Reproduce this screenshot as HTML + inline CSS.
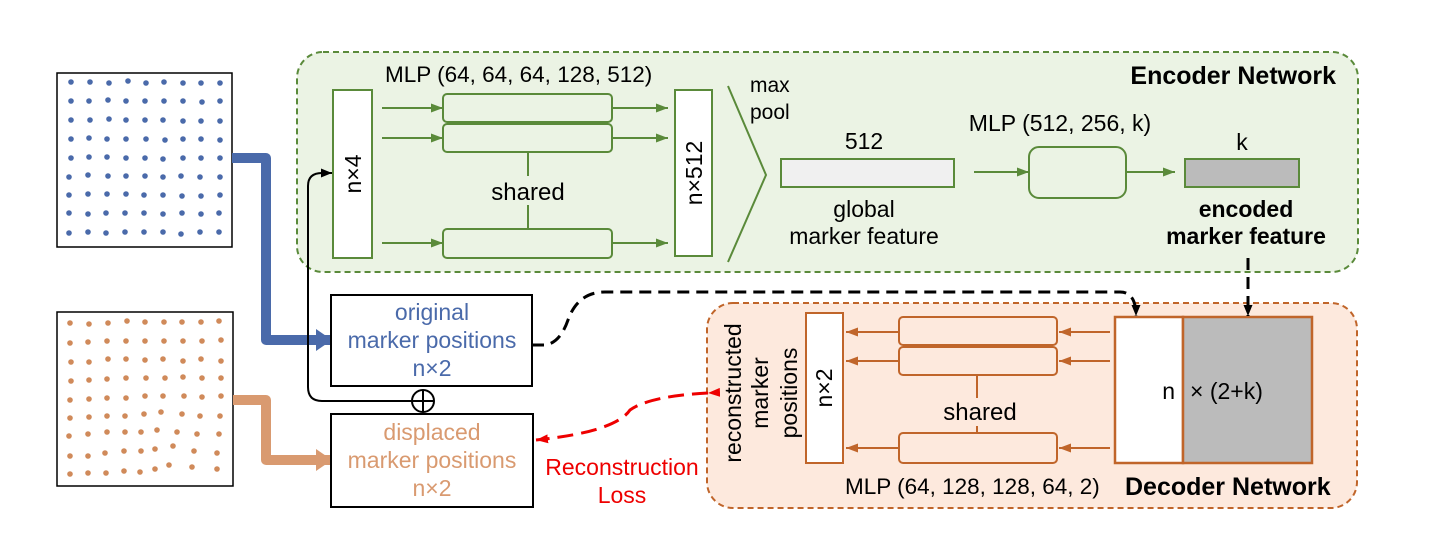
<!DOCTYPE html>
<html><head><meta charset="utf-8"><style>
html,body{margin:0;padding:0;background:#fff;}
svg{display:block;font-family:"Liberation Sans",sans-serif;}
</style></head><body>
<svg width="1436" height="535" viewBox="0 0 1436 535" xmlns="http://www.w3.org/2000/svg">
<defs>
<marker id="ag" markerWidth="12" markerHeight="9" refX="12" refY="4.5" orient="auto" markerUnits="userSpaceOnUse"><path d="M0,0 L12,4.5 L0,9z" fill="#5a8a3a"/></marker>
<marker id="ao" markerWidth="12" markerHeight="9" refX="12" refY="4.5" orient="auto" markerUnits="userSpaceOnUse"><path d="M0,0 L12,4.5 L0,9z" fill="#c0652a"/></marker>
<marker id="ak" markerWidth="11" markerHeight="9" refX="11" refY="4.5" orient="auto" markerUnits="userSpaceOnUse"><path d="M0,0 L11,4.5 L0,9z" fill="#000"/></marker>
<marker id="ar" markerWidth="12" markerHeight="9" refX="12" refY="4.5" orient="auto" markerUnits="userSpaceOnUse"><path d="M0,0 L12,4.5 L0,9z" fill="#e00"/></marker>
<marker id="ab" markerWidth="16" markerHeight="22" refX="14" refY="11" orient="auto" markerUnits="userSpaceOnUse"><path d="M0,0 L16,11 L0,22z" fill="#4a6aaa"/></marker>
<marker id="aor" markerWidth="16" markerHeight="22" refX="14" refY="11" orient="auto" markerUnits="userSpaceOnUse"><path d="M0,0 L16,11 L0,22z" fill="#d99a70"/></marker>
</defs>

<rect x="57" y="73" width="175" height="174" fill="#fff" stroke="#000" stroke-width="1.5"/>
<rect x="57" y="312" width="176" height="174" fill="#fff" stroke="#000" stroke-width="1.5"/>

<path d="M232,158 L266,158 L266,340 L330,340" fill="none" stroke="#4a6aaa" stroke-width="10" stroke-linejoin="round" marker-end="url(#ab)"/>
<path d="M233,400 L266,400 L266,460 L330,460" fill="none" stroke="#d99a70" stroke-width="10" stroke-linejoin="round" marker-end="url(#aor)"/>

<!-- encoder -->
<rect x="297" y="52" width="1061" height="220" rx="26" fill="#ebf3e4" stroke="#5a8a3a" stroke-width="2" stroke-dasharray="6,4"/>
<text x="385" y="82" font-size="22.5">MLP (64, 64, 64, 128, 512)</text>
<text x="1336" y="84" font-size="25" font-weight="bold" text-anchor="end">Encoder Network</text>
<rect x="333" y="90" width="39" height="168" fill="#fff" stroke="#5a8a3a" stroke-width="2"/>
<text transform="translate(361,174) rotate(-90)" font-size="23" text-anchor="middle">n×4</text>
<g fill="none" stroke="#5a8a3a" stroke-width="2">
<rect x="443" y="94" width="169" height="28" rx="4"/>
<rect x="443" y="124" width="169" height="28" rx="4"/>
<rect x="443" y="229" width="169" height="29" rx="4"/>
<line x1="528" y1="152" x2="528" y2="176"/>
<line x1="528" y1="205" x2="528" y2="229"/>
<line x1="382" y1="108" x2="443" y2="108" marker-end="url(#ag)"/>
<line x1="382" y1="138" x2="443" y2="138" marker-end="url(#ag)"/>
<line x1="382" y1="243" x2="443" y2="243" marker-end="url(#ag)"/>
<line x1="612" y1="108" x2="668" y2="108" marker-end="url(#ag)"/>
<line x1="612" y1="138" x2="668" y2="138" marker-end="url(#ag)"/>
<line x1="612" y1="243" x2="668" y2="243" marker-end="url(#ag)"/>
<polyline points="728,86 766,175 728,262"/>
<line x1="974" y1="172" x2="1029" y2="172" marker-end="url(#ag)"/>
<line x1="1126" y1="172" x2="1175" y2="172" marker-end="url(#ag)"/>
<rect x="1029" y="147" width="97" height="51" rx="10"/>
</g>
<text x="528" y="200" font-size="24" text-anchor="middle">shared</text>
<rect x="675" y="90" width="37" height="166" fill="#fff" stroke="#5a8a3a" stroke-width="2"/>
<text transform="translate(702,173) rotate(-90)" font-size="23" text-anchor="middle">n×512</text>
<text x="750" y="92" font-size="21">max</text>
<text x="750" y="119" font-size="21">pool</text>
<rect x="781" y="159" width="173" height="28" fill="#f0f0f0" stroke="#5a8a3a" stroke-width="2"/>
<text x="864" y="149" font-size="23" text-anchor="middle">512</text>
<text x="864" y="217" font-size="23" text-anchor="middle">global</text>
<text x="864" y="244" font-size="23" text-anchor="middle">marker feature</text>
<text x="1060" y="131" font-size="23" text-anchor="middle">MLP (512, 256, k)</text>
<rect x="1185" y="159" width="114" height="28" fill="#bbb" stroke="#5a8a3a" stroke-width="2"/>
<text x="1242" y="150" font-size="23" text-anchor="middle">k</text>
<text x="1246" y="217" font-size="23" font-weight="bold" text-anchor="middle">encoded</text>
<text x="1246" y="244" font-size="23" font-weight="bold" text-anchor="middle">marker feature</text>

<!-- decoder -->
<rect x="707" y="303" width="650" height="205" rx="26" fill="#fde9dd" stroke="#c0652a" stroke-width="2" stroke-dasharray="6,4"/>
<text transform="translate(741,393) rotate(-90)" font-size="23" text-anchor="middle">reconstructed</text>
<text transform="translate(768,393) rotate(-90)" font-size="23" text-anchor="middle">marker</text>
<text transform="translate(797,393) rotate(-90)" font-size="23" text-anchor="middle">positions</text>
<rect x="806" y="313" width="37" height="150" fill="#fff" stroke="#c0652a" stroke-width="2"/>
<text transform="translate(832,388) rotate(-90)" font-size="23" text-anchor="middle">n×2</text>
<g fill="none" stroke="#c0652a" stroke-width="2">
<rect x="899" y="317" width="158" height="28" rx="4"/>
<rect x="899" y="347" width="158" height="28" rx="4"/>
<rect x="899" y="433" width="158" height="30" rx="4"/>
<line x1="977" y1="375" x2="977" y2="398"/>
<line x1="977" y1="426" x2="977" y2="433"/>
<line x1="1110" y1="332" x2="1059" y2="332" marker-end="url(#ao)"/>
<line x1="1110" y1="361" x2="1059" y2="361" marker-end="url(#ao)"/>
<line x1="1110" y1="448" x2="1059" y2="448" marker-end="url(#ao)"/>
<line x1="899" y1="332" x2="846" y2="332" marker-end="url(#ao)"/>
<line x1="899" y1="361" x2="846" y2="361" marker-end="url(#ao)"/>
<line x1="899" y1="448" x2="846" y2="448" marker-end="url(#ao)"/>
</g>
<text x="980" y="420" font-size="24" text-anchor="middle">shared</text>
<rect x="1115" y="317" width="68" height="146" fill="#fff" stroke="#c0652a" stroke-width="2.5"/>
<rect x="1183" y="317" width="129" height="146" fill="#bbb" stroke="#c0652a" stroke-width="2.5"/>
<text x="1175" y="399" font-size="23" text-anchor="end">n</text>
<text x="1190" y="399" font-size="23">× (2+k)</text>
<text x="845" y="494" font-size="22.5">MLP (64, 128, 128, 64, 2)</text>
<text x="1125" y="495" font-size="25" font-weight="bold">Decoder Network</text>

<!-- position boxes -->
<rect x="331" y="295" width="201" height="91" fill="#fff" stroke="#000" stroke-width="2"/>
<text x="432" y="320" font-size="23" fill="#4a6aaa" text-anchor="middle">original</text>
<text x="432" y="348" font-size="23" fill="#4a6aaa" text-anchor="middle">marker positions</text>
<text x="432" y="376" font-size="23" fill="#4a6aaa" text-anchor="middle">n×2</text>
<rect x="331" y="414" width="202" height="93" fill="#fff" stroke="#000" stroke-width="2"/>
<text x="432" y="440" font-size="23" fill="#d99a70" text-anchor="middle">displaced</text>
<text x="432" y="468" font-size="23" fill="#d99a70" text-anchor="middle">marker positions</text>
<text x="432" y="496" font-size="23" fill="#d99a70" text-anchor="middle">n×2</text>

<path d="M412,401 L322,401 Q308,401 308,387 L308,186 Q308,173 322,173 L332,173" fill="none" stroke="#000" stroke-width="2" marker-end="url(#ak)"/>
<circle cx="423" cy="401" r="11" fill="#fff" stroke="#000" stroke-width="2"/>
<line x1="412" y1="401" x2="434" y2="401" stroke="#000" stroke-width="2"/>
<line x1="423" y1="390" x2="423" y2="412" stroke="#000" stroke-width="2"/>

<path d="M532,345 L545,345 Q560,343 568,320 Q578,292 605,292 L1120,292 Q1136,292 1136,316" fill="none" stroke="#000" stroke-width="3" stroke-dasharray="12,7" marker-end="url(#ak)"/>
<line x1="1248" y1="258" x2="1248" y2="316" stroke="#000" stroke-width="3" stroke-dasharray="12,7" marker-end="url(#ak)"/>

<path d="M708,393 Q650,396 630,410 Q615,432 536,440" fill="none" stroke="#e00" stroke-width="3" stroke-dasharray="16,8" marker-end="url(#ar)" marker-start="url(#ar)"/>
<text x="622" y="475" font-size="23" fill="#e00" text-anchor="middle">Reconstruction</text>
<text x="622" y="503" font-size="23" fill="#e00" text-anchor="middle">Loss</text>

<g fill="#4a6aaa">
<circle cx="71" cy="82" r="2.8"/><circle cx="90" cy="82" r="2.8"/><circle cx="109" cy="83" r="2.8"/><circle cx="128" cy="81" r="2.8"/><circle cx="146" cy="83" r="2.8"/><circle cx="164" cy="82" r="2.8"/><circle cx="183" cy="83" r="2.8"/><circle cx="201" cy="83" r="2.8"/><circle cx="220" cy="83" r="2.8"/>
<circle cx="71" cy="101" r="2.8"/><circle cx="89" cy="101" r="2.8"/><circle cx="108" cy="100" r="2.8"/><circle cx="126" cy="101" r="2.8"/><circle cx="145" cy="101" r="2.8"/><circle cx="164" cy="101" r="2.8"/><circle cx="183" cy="101" r="2.8"/><circle cx="202" cy="102" r="2.8"/><circle cx="220" cy="101" r="2.8"/>
<circle cx="71" cy="120" r="2.8"/><circle cx="90" cy="120" r="2.8"/><circle cx="109" cy="119" r="2.8"/><circle cx="126" cy="120" r="2.8"/><circle cx="145" cy="120" r="2.8"/><circle cx="163" cy="120" r="2.8"/><circle cx="183" cy="121" r="2.8"/><circle cx="201" cy="121" r="2.8"/><circle cx="220" cy="121" r="2.8"/>
<circle cx="71" cy="139" r="2.8"/><circle cx="89" cy="138" r="2.8"/><circle cx="107" cy="139" r="2.8"/><circle cx="126" cy="139" r="2.8"/><circle cx="146" cy="139" r="2.8"/><circle cx="165" cy="140" r="2.8"/><circle cx="183" cy="139" r="2.8"/><circle cx="201" cy="139" r="2.8"/><circle cx="220" cy="140" r="2.8"/>
<circle cx="71" cy="158" r="2.8"/><circle cx="89" cy="157" r="2.8"/><circle cx="107" cy="157" r="2.8"/><circle cx="126" cy="158" r="2.8"/><circle cx="145" cy="158" r="2.8"/><circle cx="163" cy="159" r="2.8"/><circle cx="183" cy="158" r="2.8"/><circle cx="201" cy="158" r="2.8"/><circle cx="220" cy="158" r="2.8"/>
<circle cx="69" cy="177" r="2.8"/><circle cx="88" cy="175" r="2.8"/><circle cx="108" cy="176" r="2.8"/><circle cx="126" cy="176" r="2.8"/><circle cx="145" cy="176" r="2.8"/><circle cx="163" cy="177" r="2.8"/><circle cx="181" cy="176" r="2.8"/><circle cx="200" cy="177" r="2.8"/><circle cx="220" cy="177" r="2.8"/>
<circle cx="69" cy="195" r="2.8"/><circle cx="88" cy="194" r="2.8"/><circle cx="107" cy="194" r="2.8"/><circle cx="126" cy="194" r="2.8"/><circle cx="144" cy="195" r="2.8"/><circle cx="163" cy="195" r="2.8"/><circle cx="182" cy="196" r="2.8"/><circle cx="201" cy="196" r="2.8"/><circle cx="220" cy="195" r="2.8"/>
<circle cx="69" cy="213" r="2.8"/><circle cx="88" cy="214" r="2.8"/><circle cx="106" cy="213" r="2.8"/><circle cx="125" cy="213" r="2.8"/><circle cx="144" cy="213" r="2.8"/><circle cx="163" cy="214" r="2.8"/><circle cx="182" cy="213" r="2.8"/><circle cx="201" cy="214" r="2.8"/><circle cx="219" cy="213" r="2.8"/>
<circle cx="69" cy="233" r="2.8"/><circle cx="88" cy="232" r="2.8"/><circle cx="106" cy="233" r="2.8"/><circle cx="125" cy="232" r="2.8"/><circle cx="144" cy="232" r="2.8"/><circle cx="163" cy="232" r="2.8"/><circle cx="181" cy="234" r="2.8"/><circle cx="200" cy="232" r="2.8"/><circle cx="219" cy="232" r="2.8"/>
</g>
<g fill="#d08a5a">
<circle cx="70" cy="323" r="2.8"/><circle cx="89" cy="324" r="2.8"/><circle cx="108" cy="323" r="2.8"/><circle cx="127" cy="321" r="2.8"/><circle cx="145" cy="322" r="2.8"/><circle cx="164" cy="322" r="2.8"/><circle cx="182" cy="322" r="2.8"/><circle cx="201" cy="322" r="2.8"/><circle cx="219" cy="321" r="2.8"/>
<circle cx="70" cy="343" r="2.8"/><circle cx="88" cy="342" r="2.8"/><circle cx="107" cy="341" r="2.8"/><circle cx="126" cy="341" r="2.8"/><circle cx="145" cy="341" r="2.8"/><circle cx="164" cy="341" r="2.8"/><circle cx="183" cy="341" r="2.8"/><circle cx="202" cy="341" r="2.8"/><circle cx="221" cy="340" r="2.8"/>
<circle cx="71" cy="362" r="2.8"/><circle cx="89" cy="362" r="2.8"/><circle cx="108" cy="359" r="2.8"/><circle cx="126" cy="359" r="2.8"/><circle cx="145" cy="360" r="2.8"/><circle cx="163" cy="359" r="2.8"/><circle cx="183" cy="361" r="2.8"/><circle cx="201" cy="359" r="2.8"/><circle cx="221" cy="361" r="2.8"/>
<circle cx="71" cy="381" r="2.8"/><circle cx="89" cy="380" r="2.8"/><circle cx="107" cy="379" r="2.8"/><circle cx="126" cy="378" r="2.8"/><circle cx="146" cy="378" r="2.8"/><circle cx="165" cy="378" r="2.8"/><circle cx="183" cy="377" r="2.8"/><circle cx="202" cy="378" r="2.8"/><circle cx="221" cy="378" r="2.8"/>
<circle cx="70" cy="400" r="2.8"/><circle cx="89" cy="399" r="2.8"/><circle cx="107" cy="398" r="2.8"/><circle cx="126" cy="398" r="2.8"/><circle cx="145" cy="396" r="2.8"/><circle cx="163" cy="396" r="2.8"/><circle cx="184" cy="396" r="2.8"/><circle cx="202" cy="397" r="2.8"/><circle cx="221" cy="396" r="2.8"/>
<circle cx="70" cy="418" r="2.8"/><circle cx="89" cy="417" r="2.8"/><circle cx="107" cy="416" r="2.8"/><circle cx="125" cy="416" r="2.8"/><circle cx="144" cy="414" r="2.8"/><circle cx="161" cy="412" r="2.8"/><circle cx="182" cy="414" r="2.8"/><circle cx="200" cy="416" r="2.8"/><circle cx="220" cy="416" r="2.8"/>
<circle cx="69" cy="436" r="2.8"/><circle cx="88" cy="434" r="2.8"/><circle cx="107" cy="432" r="2.8"/><circle cx="125" cy="432" r="2.8"/><circle cx="141" cy="432" r="2.8"/><circle cx="157" cy="430" r="2.8"/><circle cx="177" cy="432" r="2.8"/><circle cx="197" cy="434" r="2.8"/><circle cx="219" cy="434" r="2.8"/>
<circle cx="70" cy="456" r="2.8"/><circle cx="88" cy="456" r="2.8"/><circle cx="105" cy="453" r="2.8"/><circle cx="124" cy="451" r="2.8"/><circle cx="141" cy="451" r="2.8"/><circle cx="155" cy="449" r="2.8"/><circle cx="173" cy="446" r="2.8"/><circle cx="194" cy="451" r="2.8"/><circle cx="217" cy="453" r="2.8"/>
<circle cx="70" cy="474" r="2.8"/><circle cx="88" cy="473" r="2.8"/><circle cx="106" cy="473" r="2.8"/><circle cx="124" cy="471" r="2.8"/><circle cx="140" cy="472" r="2.8"/><circle cx="155" cy="469" r="2.8"/><circle cx="169" cy="465" r="2.8"/><circle cx="192" cy="467" r="2.8"/><circle cx="217" cy="469" r="2.8"/>
</g>
</svg>
</body></html>
